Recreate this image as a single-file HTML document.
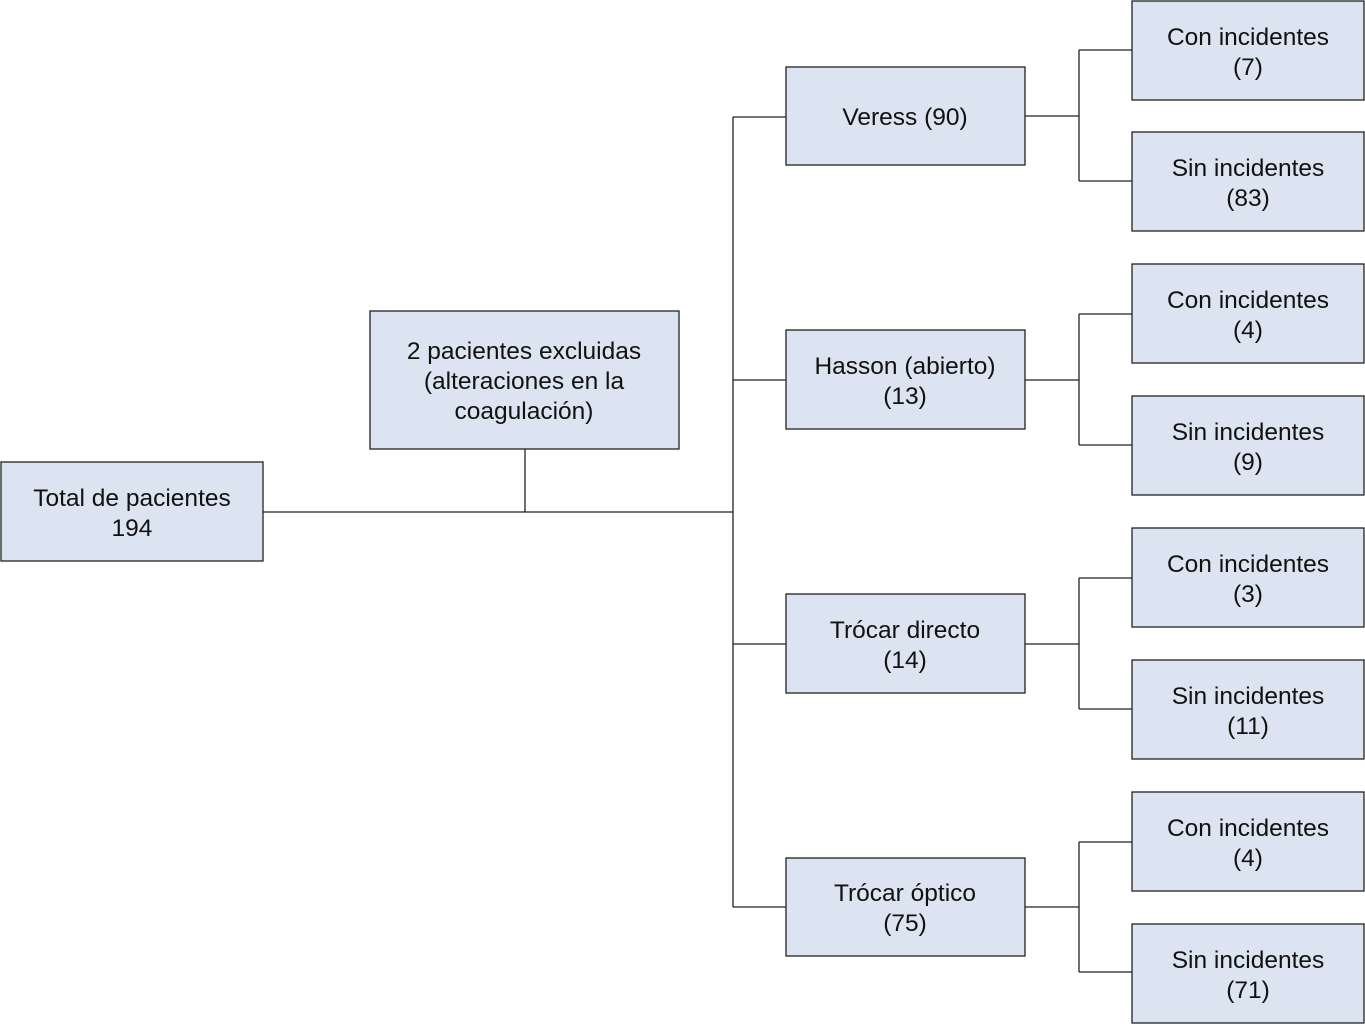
<!DOCTYPE html>
<html><head><meta charset="utf-8"><style>
html,body{margin:0;padding:0;background:#fff;}
svg text{font-family:"Liberation Sans",Arial,sans-serif;font-size:24.5px;fill:#111;text-anchor:middle;}
</style></head><body>
<svg width="1365" height="1024" viewBox="0 0 1365 1024" xmlns="http://www.w3.org/2000/svg">
<g fill="#dbe4f0" stroke="#222" stroke-width="1.3">
<rect x="1" y="462" width="262" height="99"/>
<rect x="370" y="311" width="309" height="138"/>
<rect x="786" y="67" width="239" height="98"/>
<rect x="786" y="330" width="239" height="99"/>
<rect x="786" y="594" width="239" height="99"/>
<rect x="786" y="858" width="239" height="98"/>
<rect x="1132" y="1" width="232" height="99"/>
<rect x="1132" y="132" width="232" height="99"/>
<rect x="1132" y="264" width="232" height="99"/>
<rect x="1132" y="396" width="232" height="99"/>
<rect x="1132" y="528" width="232" height="99"/>
<rect x="1132" y="660" width="232" height="99"/>
<rect x="1132" y="792" width="232" height="99"/>
<rect x="1132" y="924" width="232" height="99"/>
</g>
<g stroke="#222" stroke-width="1.3" fill="none">
<path d="M263 512H733M525 449V512M733 117V907M733 117H786M733 380H786M733 644H786M733 907H786"/>
<path d="M1025 116H1079M1079 50V181M1079 50H1132M1079 181H1132"/>
<path d="M1025 380H1079M1079 314V445M1079 314H1132M1079 445H1132"/>
<path d="M1025 644H1079M1079 578V709M1079 578H1132M1079 709H1132"/>
<path d="M1025 907H1079M1079 842V972M1079 842H1132M1079 972H1132"/>
</g>
<text x="132" y="506">Total de pacientes</text><text x="132" y="536">194</text>
<text x="524" y="359">2 pacientes excluidas</text><text x="524" y="389">(alteraciones en la</text><text x="524" y="419">coagulación)</text>
<text x="905" y="125">Veress (90)</text>
<text x="905" y="374">Hasson (abierto)</text><text x="905" y="404">(13)</text>
<text x="905" y="638">Trócar directo</text><text x="905" y="668">(14)</text>
<text x="905" y="901">Trócar óptico</text><text x="905" y="931">(75)</text>
<text x="1248" y="45">Con incidentes</text><text x="1248" y="75">(7)</text>
<text x="1248" y="176">Sin incidentes</text><text x="1248" y="206">(83)</text>
<text x="1248" y="308">Con incidentes</text><text x="1248" y="338">(4)</text>
<text x="1248" y="440">Sin incidentes</text><text x="1248" y="470">(9)</text>
<text x="1248" y="572">Con incidentes</text><text x="1248" y="602">(3)</text>
<text x="1248" y="704">Sin incidentes</text><text x="1248" y="734">(11)</text>
<text x="1248" y="836">Con incidentes</text><text x="1248" y="866">(4)</text>
<text x="1248" y="968">Sin incidentes</text><text x="1248" y="998">(71)</text>
</svg>
</body></html>
